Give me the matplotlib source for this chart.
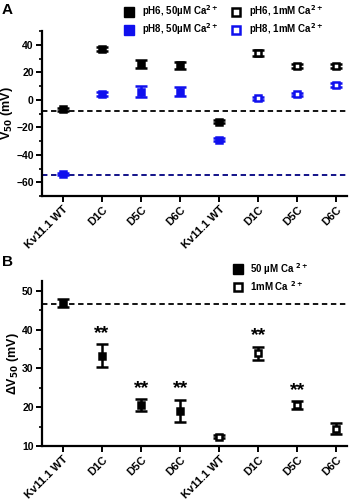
import matplotlib
matplotlib.use("Agg")
import matplotlib.pyplot as plt
from matplotlib.lines import Line2D
import numpy as np

plt.rcParams['font.family'] = ['Liberation Sans', 'DejaVu Sans']
plt.rcParams['font.weight'] = 'bold'

categories = ["Kv11.1 WT", "D1C", "D5C", "D6C", "Kv11.1 WT", "D1C", "D5C", "D6C"]

# Panel A: V50 (mV)
a_ph6 = [-7, 37, 26, 25, -16, 34, 24.5, 24.5]
a_ph6_err = [1, 1.2, 3, 2.5, 1, 2, 1.2, 1.5]
a_ph8 = [-54, 4, 6, 6, -29, 1, 4, 11]
a_ph8_err = [1, 1.5, 4, 3.5, 1, 1, 1, 1.5]
a_filled = [True, True, True, True, True, False, False, False]
a_ref_ph6 = -8
a_ref_ph8 = -54.5
a_yticks = [-60, -40, -20, 0, 20, 40]

# Panel B: delta V50 (mV)
b_vals = [46.8, 33.3, 20.6, 19.0, 12.4, 33.9, 20.5, 14.5]
b_err = [1.0, 2.9, 1.5, 2.9, 0.4, 1.7, 1.0, 1.4]
b_filled = [True, True, True, True, False, False, False, False]
b_stars = [False, True, True, True, False, True, True, False]
b_ref = 46.7
b_yticks = [10, 20, 30, 40, 50]

BLUE = "#1010ee"
fig = plt.figure(figsize=(3.56, 5.00), dpi=100)

def style_ax(ax):
    for s in ["top", "right"]:
        ax.spines[s].set_visible(False)
    for s in ["left", "bottom"]:
        ax.spines[s].set_linewidth(1.6)
    ax.tick_params(axis="both", width=1.4, length=4, labelsize=7.5, pad=2)
    ax.tick_params(axis="y", which="minor", width=1.2, length=2.5)
    x = np.arange(len(categories))
    ax.set_xticks(x)
    ax.set_xticklabels(categories, rotation=45, ha="right", rotation_mode="anchor", fontsize=8, fontweight="bold")
    ax.set_xlim(-0.54, 7.28)

def pt(ax, x, y, e, color, filled, ms=4.5):
    ax.errorbar([x], [y], yerr=[e], fmt="s", color=color, ecolor=color,
                mfc=color if filled else "white", mec=color, mew=1.8,
                ms=ms, capsize=4, capthick=1.8, elinewidth=1.8, zorder=3)

axA = fig.add_axes([0.118, 0.608, 0.857, 0.330])
style_ax(axA)
axA.set_ylim(-70, 50)
axA.set_yticks(a_yticks)
axA.set_yticks(np.arange(-70, 51, 10), minor=True)
axA.axhline(a_ref_ph6, color="black", ls=(0, (3, 2)), lw=1.3, zorder=1)
axA.axhline(a_ref_ph8, color="#000080", ls=(0, (3, 2)), lw=1.3, zorder=1)
for i in range(len(categories)):
    pt(axA, i, a_ph6[i], a_ph6_err[i], "black", a_filled[i])
    pt(axA, i, a_ph8[i], a_ph8_err[i], BLUE, a_filled[i])
axA.set_ylabel("V$_{50}$ (mV)", fontsize=9, fontweight="bold", labelpad=1)
for lab in axA.get_yticklabels():
    lab.set_fontweight("bold")

hA = [Line2D([], [], marker="s", ls="none", color="black", mfc="black", ms=6.5),
      Line2D([], [], marker="s", ls="none", color=BLUE, mfc=BLUE, ms=6.5),
      Line2D([], [], marker="s", ls="none", color="black", mfc="white", mew=1.8, ms=6),
      Line2D([], [], marker="s", ls="none", color=BLUE, mfc="white", mew=1.8, ms=6)]
lA = ["pH6, 50µM Ca$^{2+}$", "pH8, 50µM Ca$^{2+}$", "pH6, 1mM Ca$^{2+}$", "pH8, 1mM Ca$^{2+}$"]
fig.legend(hA, lA, ncol=2, loc="upper left", bbox_to_anchor=(0.33, 1.005), frameon=False,
           fontsize=7, handletextpad=0.7, columnspacing=1.2, labelspacing=0.25, handlelength=1.2,
           borderaxespad=0.2)

axB = fig.add_axes([0.118, 0.108, 0.857, 0.330])
style_ax(axB)
axB.set_ylim(10, 52.5)
axB.set_yticks(b_yticks)
axB.set_yticks(np.arange(10, 53, 5), minor=True)
axB.axhline(b_ref, color="black", ls=(0, (3, 2)), lw=1.3, zorder=1)
for i in range(len(categories)):
    pt(axB, i, b_vals[i], b_err[i], "black", b_filled[i])
    if b_stars[i]:
        axB.text(i, b_vals[i] + b_err[i] + 0.6, "**", ha="center", va="bottom", fontsize=14, fontweight="bold")
axB.set_ylabel("ΔV$_{50}$ (mV)", fontsize=9, fontweight="bold", labelpad=1)
for lab in axB.get_yticklabels():
    lab.set_fontweight("bold")

hB = [Line2D([], [], marker="s", ls="none", color="black", mfc="black", ms=6.5),
      Line2D([], [], marker="s", ls="none", color="black", mfc="white", mew=1.8, ms=6)]
lB = ["50 µM Ca $^{2+}$", "1mM Ca $^{2+}$"]
fig.legend(hB, lB, loc="upper left", bbox_to_anchor=(0.635, 0.49), frameon=False,
           fontsize=7, handletextpad=0.7, labelspacing=0.25, handlelength=1.2, borderaxespad=0.2)

fig.text(0.005, 0.995, "A", fontsize=11, fontweight="bold", va="top")
fig.text(0.005, 0.49, "B", fontsize=11, fontweight="bold", va="top")

fig.savefig("out.png", dpi=100)
